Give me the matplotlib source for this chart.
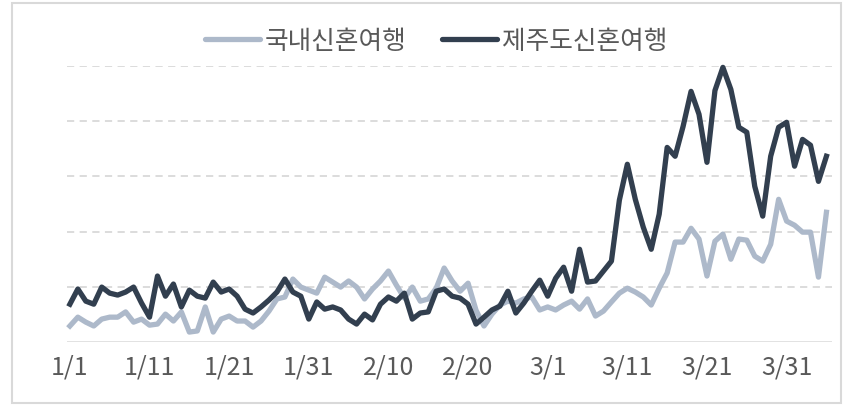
import numpy as np
import matplotlib
matplotlib.use('Agg')
import matplotlib.pyplot as plt
from matplotlib.patches import Rectangle

plt.rcParams['font.family'] = ['Noto Sans CJK KR', 'DejaVu Sans']

# daily index, 2020-01-01 .. 2020-04-05
domestic = [
    5.8, 9.0, 7.2, 5.8, 8.3, 9.0, 9.0, 10.9, 7.2, 8.3,
    6.1, 6.5, 10.1, 7.6, 10.9, 3.6, 4.0, 12.7, 3.6, 8.3,
    9.4, 7.6, 7.6, 5.4, 7.6, 11.2, 15.6, 16.3, 22.8, 19.9,
    18.8, 17.7, 23.5, 21.7, 19.9, 22.1, 19.9, 15.6, 19.2, 22.1,
    25.7, 20.6, 15.9, 19.9, 14.8, 15.6, 19.5, 26.8, 22.1, 18.4,
    21.3, 11.5, 5.8, 10.1, 13.4, 14.8, 14.1, 15.6, 16.3, 11.6,
    12.7, 11.6, 13.4, 14.8, 11.9, 15.6, 9.4, 11.2, 14.5, 17.7,
    19.5, 18.1, 16.3, 13.4, 19.5, 25.0, 36.2, 36.2, 41.2, 37.3,
    23.9, 36.5, 39.1, 30.0, 37.3, 36.9, 31.1, 29.3, 35.4, 51.7,
    43.8, 42.3, 39.8, 39.8, 23.5, 47.0,
]
jeju = [
    13.7, 19.2, 14.8, 13.7, 19.9, 17.7, 17.0, 18.1, 19.9, 14.1,
    9.0, 23.9, 16.6, 21.0, 12.7, 18.8, 16.6, 15.9, 21.7, 18.1,
    19.2, 16.6, 11.9, 10.5, 12.7, 15.2, 18.1, 22.8, 18.1, 16.6,
    8.3, 14.5, 11.9, 12.7, 11.6, 8.3, 6.5, 10.1, 8.0, 13.7,
    16.3, 14.8, 17.7, 8.3, 10.5, 10.9, 18.4, 19.2, 16.6, 15.9,
    13.7, 6.5, 9.0, 11.6, 13.0, 18.4, 10.5, 14.1, 18.4, 22.4,
    16.6, 23.1, 27.1, 18.4, 33.6, 21.7, 22.1, 25.7, 29.3, 51.4,
    64.4, 51.7, 41.6, 33.6, 46.3, 70.5, 67.3, 78.1, 90.8, 82.5,
    65.1, 91.1, 99.5, 91.5, 77.8, 76.0, 56.4, 45.6, 67.3, 77.8,
    79.6, 63.7, 73.4, 71.3, 58.2, 67.3,
]
tick_labels = ['1/1', '1/11', '1/21', '1/31', '2/10', '2/20',
               '3/1', '3/11', '3/21', '3/31']
series_names = ['국내신혼여행', '제주도신혼여행']

light = '#adb9ca'
dark = '#323f4f'
grey = '#d9d9d9'
text_col = '#595959'

fig = plt.figure(figsize=(8.48, 4.06), dpi=100)
ax = fig.add_axes([66.7 / 848, 63 / 406, 765.3 / 848, 276 / 406])

days = np.arange(len(jeju))
l1, = ax.plot(days, domestic, color=light, lw=3.8, clip_on=False)
l2, = ax.plot(days, jeju, color=dark, lw=3.8, clip_on=False)

ax.set_xlim(-0.4, 95.7)
ax.set_ylim(0, 100)
ax.set_yticks([])
for v in [20, 40, 60, 80, 100]:
    ax.axhline(v, color=grey, lw=1.3, ls=(0, (4, 3)), zorder=0)
ax.axhline(0, color=grey, lw=1.8, zorder=0)

ax.set_xticks(days[::10])
ax.set_xticklabels(tick_labels, fontsize=18, color=text_col,
                   fontweight='light')
ax.tick_params(axis='x', length=0, pad=8)
for s in ax.spines.values():
    s.set_visible(False)

leg = fig.legend([l1, l2], series_names, loc='center', ncol=2,
                 bbox_to_anchor=(436 / 848, 1 - 42 / 406), frameon=False,
                 prop={'size': 18.5, 'weight': 'light'},
                 handlelength=2.15, handletextpad=0.16, columnspacing=1.4)
for t in leg.get_texts():
    t.set_color(text_col)
for h in leg.legend_handles:
    h.set_solid_capstyle('round')

fig.patches.append(Rectangle((12 / 848, 2 / 406), 829 / 848, 400 / 406,
                             transform=fig.transFigure, fill=False,
                             ec=grey, lw=1.5))

fig.savefig('out.png', dpi=100)
